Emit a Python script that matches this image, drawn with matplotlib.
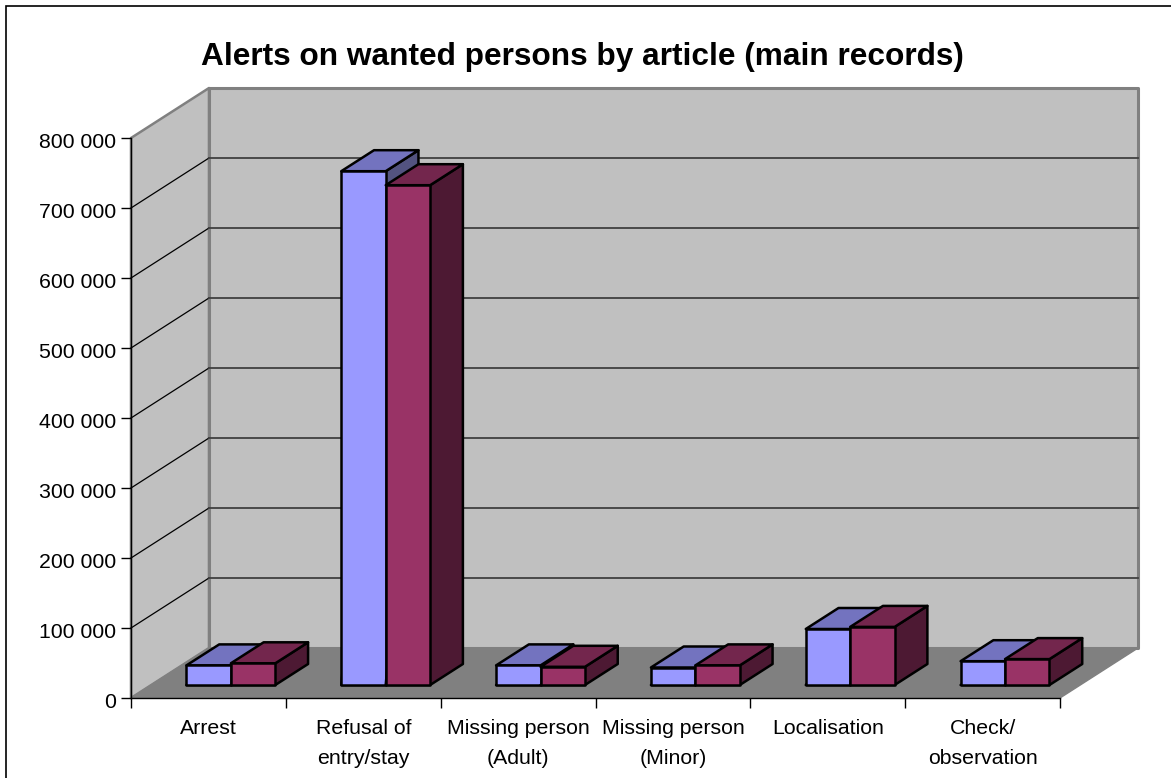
import matplotlib as mpl
mpl.use('Agg')
import matplotlib.pyplot as plt
from matplotlib.patches import Polygon, Rectangle
from matplotlib.transforms import ScaledTranslation

plt.rcParams['font.family'] = ['Liberation Sans', 'DejaVu Sans']

title = 'Alerts on wanted persons by article (main records)'
categories = ['Arrest', 'Refusal of\nentry/stay', 'Missing person\n(Adult)',
              'Missing person\n(Minor)', 'Localisation', 'Check/\nobservation']
series_a = [28000, 734000, 28000, 25000, 80000, 34000]
series_b = [31000, 714000, 26000, 28000, 83000, 37000]
y_ticks = [0, 100000, 200000, 300000, 400000, 500000, 600000, 700000, 800000]
y_labels = ['0', '100 000', '200 000', '300 000', '400 000', '500 000',
            '600 000', '700 000', '800 000']

W, H = 1171, 778
fig = plt.figure(figsize=(W / 100, H / 100), dpi=100)
ax = fig.add_axes([131 / W, (H - 698) / H, 929 / W, 560 / H])
ax.set_xlim(0, 6)
ax.set_ylim(0, 800000)

# pixels to data units, the chart is a fake 3d projection
px_x = 6 / 929.0
px_y = 800000 / 560.0
depth_x = 78 * px_x
depth_y = 50 * px_y


def proj(x, y, d):
    return (x + d * depth_x, y + d * depth_y)


def face(pts, color, ec='black', lw=1.8, z=3):
    ax.add_patch(Polygon([proj(*p) for p in pts], closed=True, facecolor=color,
                         edgecolor=ec, linewidth=lw, zorder=z, clip_on=False,
                         joinstyle='round'))


def bar3d(x0, x1, val, cols, z):
    d0, d1 = 0.26, 0.68
    face([(x0, 0, d0), (x1, 0, d0), (x1, 0, d1), (x1, val, d1), (x1, val, d0)], cols[2], z=z)
    face([(x0, val, d0), (x1, val, d0), (x1, val, d1), (x0, val, d1)], cols[1], z=z)
    face([(x0, 0, d0), (x1, 0, d0), (x1, val, d0), (x0, val, d0)], cols[0], z=z)


# walls and floor
wall = '#C0C0C0'
edge = '#808080'
face([(0, 0, 0), (0, 800000, 0), (0, 800000, 1), (0, 0, 1)], wall, ec=edge, lw=1.8, z=1)
face([(0, 0, 1), (0, 800000, 1), (6, 800000, 1), (6, 0, 1)], wall, ec=edge, lw=2.2, z=1)
face([(0, 0, 0), (6, 0, 0), (6, 0, 1), (0, 0, 1)], '#808080', ec='#808080', lw=1, z=1.5)

for t in y_ticks[1:-1]:
    ax.plot(*zip(proj(0, t, 0), proj(0, t, 1)), color='black', lw=0.9, zorder=2, clip_on=False)
    ax.plot(*zip(proj(0, t, 1), proj(6, t, 1)), color='#404040', lw=1.3, zorder=2, clip_on=False)

blue = ('#9999FF', '#7373BF', '#535380')
red = ('#993366', '#73264D', '#4D1933')
bw = 0.287
for i in range(len(categories)):
    x0 = i + 0.227
    bar3d(x0, x0 + bw, series_a[i], blue, 3 + i * 0.1)
    bar3d(x0 + bw, x0 + 2 * bw, series_b[i], red, 3.05 + i * 0.1)

for s in ['top', 'right']:
    ax.spines[s].set_visible(False)
for s in ['left', 'bottom']:
    ax.spines[s].set_linewidth(1.0)
    ax.spines[s].set_zorder(2.5)
ax.patch.set_visible(False)

ax.set_yticks(y_ticks)
ax.set_yticklabels(y_labels, fontsize=15.3)
ax.set_xticks(range(7))
ax.set_xticklabels([])
ax.set_xticks([i + 0.5 for i in range(6)], minor=True)
ax.set_xticklabels(categories, minor=True, fontsize=15.3, linespacing=1.72)
ax.tick_params(axis='x', which='minor', length=0, pad=15)
ax.tick_params(axis='both', which='major', length=7, width=1.0)
ax.tick_params(axis='y', pad=4)

# tick labels sit a little below the tick in the original
nudge = ScaledTranslation(0, -1.5 / 72, fig.dpi_scale_trans)
for lab in ax.get_yticklabels():
    lab.set_transform(lab.get_transform() + nudge)

fig.text(582.5 / W, 1 - 57.5 / H, title, ha='center', va='center', fontsize=22.8, fontweight='bold')
fig.add_artist(Rectangle((6 / W, -0.1), (W + 50) / W, 1.1 - 6 / H, transform=fig.transFigure,
                         fill=False, edgecolor='black', linewidth=1.2))

fig.savefig('out.png', dpi=100)
